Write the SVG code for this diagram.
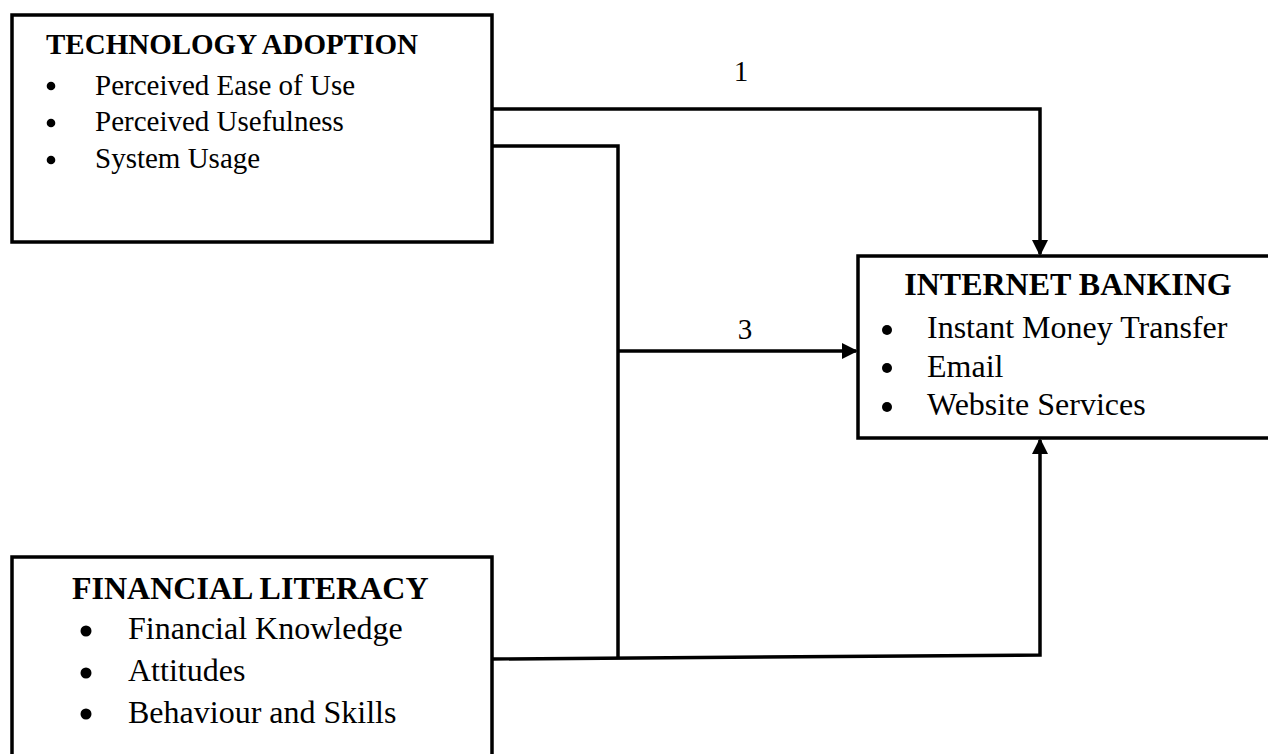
<svg xmlns="http://www.w3.org/2000/svg" width="1268" height="754" viewBox="0 0 1268 754">
  <defs>
    <style>
      .box { fill: #ffffff; stroke: #000000; stroke-width: 3.5; }
      .conn { fill: none; stroke: #000000; stroke-width: 3.5; stroke-linejoin: miter; }
      .t { font-family: "Liberation Serif", "Times New Roman", serif; fill: #000000; }
      .title { font-weight: bold; }
      .s29 { font-size: 29px; }
      .s32 { font-size: 32px; }
      .lbl { font-family: "Liberation Serif", "Times New Roman", serif; font-size: 29px; fill: #000000; text-anchor: middle; }
      .bul { fill: #000000; }
    </style>
    <marker id="arrow" markerUnits="userSpaceOnUse" viewBox="0 0 16 16" refX="14" refY="8" markerWidth="16" markerHeight="16" orient="auto">
      <path d="M0,0 L16,8 L0,16 Z" fill="#000000"/>
    </marker>
  </defs>

  <rect width="1268" height="754" fill="#ffffff"/>

  <g id="connectors">
    <path class="conn" d="M492,109 H1040 V254" marker-end="url(#arrow)"/>
    <path class="conn" d="M492,146 H618 V659"/>
    <path class="conn" d="M618,351 H856" marker-end="url(#arrow)"/>
    <path class="conn" d="M492,659 L1040,655 V440" marker-end="url(#arrow)"/>
    <text class="lbl" x="741" y="81">1</text>
    <text class="lbl" x="745" y="339">3</text>
  </g>

  <g id="technology-adoption">
    <rect class="box" x="12" y="15" width="480" height="227"/>
    <text class="t title s29" x="46" y="54">TECHNOLOGY ADOPTION</text>
    <circle class="bul" cx="51" cy="86" r="4.3"/>
    <circle class="bul" cx="51" cy="123" r="4.3"/>
    <circle class="bul" cx="51" cy="160" r="4.3"/>
    <g class="t s29">
      <text x="95" y="95">Perceived Ease of Use</text>
      <text x="95" y="131">Perceived Usefulness</text>
      <text x="95" y="168">System Usage</text>
    </g>
  </g>

  <g id="internet-banking">
    <rect class="box" x="858" y="256" width="420" height="182"/>
    <text class="t title s32" x="1068" y="295" text-anchor="middle">INTERNET BANKING</text>
    <circle class="bul" cx="887" cy="330" r="5"/>
    <circle class="bul" cx="887" cy="368" r="5"/>
    <circle class="bul" cx="887" cy="407" r="5"/>
    <g class="t s32">
      <text x="927" y="338">Instant Money Transfer</text>
      <text x="927" y="377">Email</text>
      <text x="927" y="415">Website Services</text>
    </g>
  </g>

  <g id="financial-literacy">
    <rect class="box" x="12" y="557" width="480" height="220"/>
    <text class="t title s32" x="72" y="599">FINANCIAL LITERACY</text>
    <circle class="bul" cx="86" cy="631" r="5.5"/>
    <circle class="bul" cx="86" cy="673" r="5.5"/>
    <circle class="bul" cx="86" cy="714" r="5.5"/>
    <g class="t s32">
      <text x="128" y="639">Financial Knowledge</text>
      <text x="128" y="681">Attitudes</text>
      <text x="128" y="723">Behaviour and Skills</text>
    </g>
  </g>
</svg>
